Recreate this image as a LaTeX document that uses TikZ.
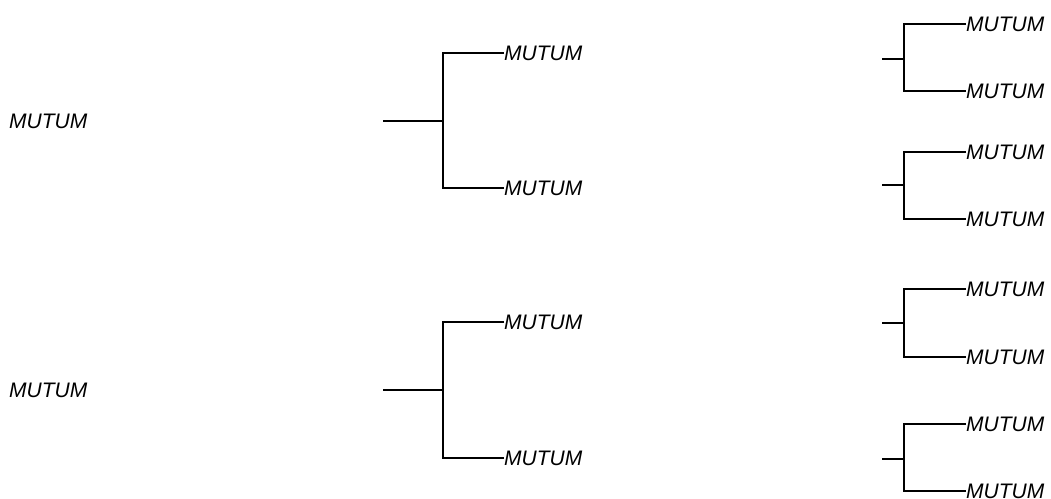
\documentclass[tikz,border=0pt]{standalone}
\usepackage{fontspec}
\setmainfont{Liberation Sans}
\begin{document}
\begin{tikzpicture}[x=1pt,y=-1pt,
  lbl/.style={anchor=west,inner sep=0pt,font=\fontsize{21}{24}\selectfont\itshape},
  edge/.style={line width=2.7pt,line cap=butt,line join=miter}]
\useasboundingbox (0,0) rectangle (1051,498);
% left labels
\node[lbl] (L1) at (9,121) {MUTUM};
\node[lbl] (L2) at (9,390) {MUTUM};
% middle trees
\foreach \i/\c/\t/\b in {1/121/53/188, 2/390/322/458}{
  \coordinate (ms\i) at (383,\c);
  \coordinate (mj\i) at (443,\c);
  \coordinate (mt\i) at (443,\t);
  \coordinate (mb\i) at (443,\b);
  \node[lbl] (ma\i) at (504,\t) {MUTUM};
  \node[lbl] (mc\i) at (504,\b) {MUTUM};
  \draw[edge] (ms\i) -- (mj\i);
  \draw[edge] (ma\i.west) -- (mt\i) -- (mb\i) -- (mc\i.west);
}
% right trees
\foreach \i/\c/\t/\b in {1/59/24/91, 2/185/152/219, 3/323/289/357, 4/459/424/491}{
  \coordinate (rs\i) at (882,\c);
  \coordinate (rj\i) at (904,\c);
  \coordinate (rt\i) at (904,\t);
  \coordinate (rb\i) at (904,\b);
  \node[lbl] (ra\i) at (966,\t) {MUTUM};
  \node[lbl] (rc\i) at (966,\b) {MUTUM};
  \draw[edge] (rs\i) -- (rj\i);
  \draw[edge] (ra\i.west) -- (rt\i) -- (rb\i) -- (rc\i.west);
}
\end{tikzpicture}
\end{document}
